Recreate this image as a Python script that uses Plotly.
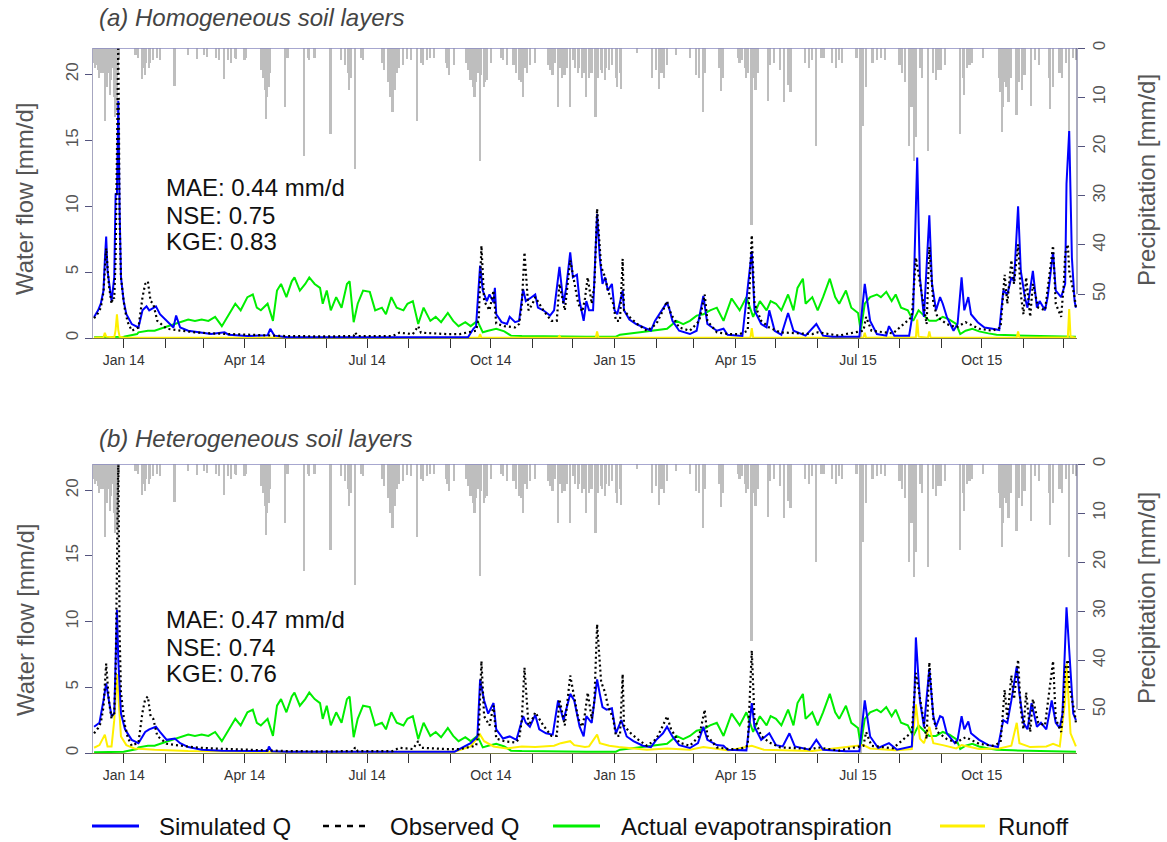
import pandas as pd
import plotly.graph_objects as go

# ---------------------------------------------------------------------------
# Daily record, day numbers are counted from 1 Jan 2014 (negative = Dec 2013)
# ---------------------------------------------------------------------------
BASE = pd.Timestamp("2014-01-01")

# Precipitation [mm/d] (rainy days only; all other days are dry)
rain_day = [-22, -21, -20, -19, -18, -17, -16, -15, -14, -13, -12, -11, -10, -9, -8, -7, -6, -5, -4, -3,
            9, 11, 14, 15, 16, 17, 19, 20, 22, 25, 27,
            38, 48, 55, 60, 62, 69, 71, 75, 78, 80, 83, 84, 90, 91,
            102, 104, 105, 106, 107, 108, 109, 120, 122,
            134, 137, 138, 142, 154, 162, 165, 167, 168, 169, 172, 177, 178,
            192, 194, 197, 198, 199, 200, 201, 202, 203, 205, 208, 211, 214,
            218, 221, 223, 226, 228, 231, 240, 241, 242, 246,
            255, 256, 258, 260, 261, 262, 264, 265, 266, 268, 269, 270, 273, 281, 282, 285,
            290, 292, 294, 296, 297, 299, 300, 302, 306,
            316, 317, 319, 321, 323, 325, 326, 328, 330, 332, 334, 336, 338,
            339, 341, 342, 344, 346, 348, 351, 353, 355, 356, 358, 359, 361, 363,
            366, 367, 369, 370, 382, 393, 396, 398, 400, 402, 404, 411, 421, 426, 428, 431, 432,
            443, 444, 446, 457, 458, 460, 462, 463, 464, 467, 468, 470, 472, 479, 481, 484, 488, 491, 494, 496,
            507, 510, 512, 515, 519, 521, 527, 530, 532, 534, 545, 548, 549, 550, 552, 557, 560, 563, 566,
            577, 579, 581, 584, 586, 588, 589, 592, 594, 598, 602, 604, 606, 608, 611,
            622, 624, 625, 627, 629, 631, 639, 651, 652, 653, 654, 655, 656, 658, 660, 664, 666, 668, 670,
            675, 678, 681, 688, 689, 691, 696, 698, 701, 703, 706, 708]
rain_mm = [3.0, 4.0, 3.5, 4.5, 6.0, 5.0, 3.0, 5.0, 14.8, 7.0, 8.0, 5.0, 9.5, 6.5, 4.0, 10.0, 14.0, 13.0, 5.0, 2.0,
           1.5, 2.0, 6.3, 4.0, 5.5, 3.0, 4.0, 3.0, 2.5, 2.0, 2.5,
           7.7, 1.5, 2.2, 1.5, 1.8, 2.0, 2.5, 6.3, 2.5, 3.0, 2.0, 2.2, 2.5, 2.0,
           4.5, 6.0, 8.5, 14.4, 10.0, 8.0, 5.0, 12.0, 2.0,
           21.9, 2.0, 2.5, 2.0, 17.5, 2.5, 3.5, 5.0, 8.5, 6.0, 24.6, 2.0, 2.5,
           3.0, 4.5, 7.0, 10.0, 8.0, 13.0, 6.0, 8.5, 5.0, 4.0, 3.5, 2.2, 2.5,
           14.8, 3.0, 3.5, 2.5, 2.0, 2.0, 3.0, 4.0, 5.5, 3.5,
           3.0, 4.5, 6.5, 8.0, 10.0, 7.0, 5.0, 22.9, 5.5, 8.0, 7.0, 6.5, 3.0, 2.0, 2.5, 3.5,
           3.5, 5.0, 6.5, 7.0, 10.0, 4.0, 5.0, 3.5, 3.0,
           3.5, 4.5, 5.5, 3.0, 12.0, 4.0, 6.0, 5.5, 4.0, 12.0, 2.5, 4.0, 5.0,
           4.0, 6.0, 5.0, 10.0, 6.0, 5.0, 14.0, 6.0, 4.5, 5.0, 6.5, 4.0, 4.5, 3.5,
           6.0, 8.0, 5.0, 8.3, 1.0, 6.0, 4.5, 8.3, 5.0, 6.0, 3.5, 1.5, 2.0, 5.5, 6.0, 13.0, 5.0,
           4.0, 8.7, 6.0, 2.0, 3.0, 2.5, 4.0, 6.0, 5.0, 36.0, 6.0, 8.5, 5.0, 10.7, 3.5, 3.0, 4.5, 11.0, 7.5, 9.0,
           3.0, 4.0, 2.5, 19.9, 2.0, 2.0, 3.0, 4.0, 2.5, 3.0, 2.0, 60.0, 12.0, 15.8, 8.0, 3.0, 2.5, 2.0, 2.5,
           3.5, 5.0, 7.0, 19.9, 12.0, 23.0, 18.0, 4.0, 6.0, 21.0, 5.0, 6.5, 4.5, 4.5, 3.5,
           17.5, 6.0, 9.5, 4.0, 3.5, 3.0, 2.0, 6.0, 9.0, 17.0, 12.0, 7.0, 8.0, 11.0, 6.0, 13.7, 7.0, 8.5, 5.5,
           11.7, 2.5, 3.5, 6.0, 12.4, 8.0, 5.0, 6.0, 3.0, 19.0, 2.0, 2.5]

# Observed discharge Q [mm/d]
obs_day = [-22, -19, -17, -15, -13, -11, -9, -8, -7, -6, -5, -4, -3, -2, 0, 1, 3, 6, 11, 14, 16, 18, 20, 22, 25,
           32, 43, 53, 65, 80, 100, 120, 150, 171, 172, 174, 200, 205, 210, 215, 219, 221, 240, 250, 262, 264,
           266, 268, 272, 275, 277, 283, 291, 294, 296, 298, 301, 304, 306, 312, 318, 322, 324, 328, 332, 335,
           338, 341, 343, 345, 348, 350, 352, 355, 358, 360, 364, 366, 369, 371, 372, 376, 382, 389, 396, 401,
           404, 407, 413, 421, 428, 432, 434, 441, 450, 458, 464, 467, 469, 474, 480, 488, 512, 516, 532, 537,
           550, 552, 556, 572, 586, 589, 592, 597, 599, 602, 605, 612, 619, 626, 636, 646, 652, 655, 657, 660,
           662, 665, 667, 669, 671, 674, 676, 680, 685, 687, 691, 693, 697, 699, 700, 702, 703, 707, 708]
obs_q = [1.5, 1.9, 2.3, 3.5, 6.8, 4.0, 2.6, 3.1, 3.0, 6.0, 14.0, 22.5, 9.0, 4.6, 2.8, 2.1, 1.2, 0.55, 0.8, 3.1,
         4.1, 4.3, 2.8, 2.6, 1.3, 0.7, 0.55, 0.43, 0.35, 0.3, 0.2, 0.15, 0.12, 0.15, 0.43, 0.15, 0.15, 0.4,
         0.35, 0.3, 0.9, 0.4, 0.3, 0.3, 0.55, 1.5, 7.0, 2.8, 2.1, 3.6, 1.1, 0.9, 0.8, 1.06, 2.5, 6.5, 2.1,
         2.6, 3.1, 2.1, 1.3, 1.3, 4.1, 2.1, 5.9, 4.1, 2.6, 2.0, 3.0, 4.6, 2.6, 4.0, 9.8, 5.4, 4.6, 3.6, 2.6,
         1.3, 1.3, 6.0, 2.1, 1.6, 1.06, 0.55, 1.06, 2.1, 2.8, 1.8, 0.8, 0.55, 1.3, 3.3, 1.3, 0.43, 0.3, 0.3,
         0.55, 7.8, 2.6, 1.3, 0.8, 0.43, 0.3, 0.43, 0.18, 0.3, 0.55, 1.6, 0.55, 0.35, 1.6, 6.1, 4.1, 1.06,
         6.9, 2.6, 1.6, 1.06, 0.8, 1.2, 0.7, 0.55, 0.8, 4.8, 2.6, 5.9, 4.1, 7.1, 3.3, 1.8, 4.6, 1.6, 4.1,
         2.3, 2.1, 3.6, 7.0, 2.6, 1.6, 4.1, 6.4, 7.1, 5.1, 3.1, 2.3]

# (a) Homogeneous soil layers: simulated Q [mm/d]
sim_a_day = [-22, -19, -17, -15, -14, -13, -12, -10, -9, -7, -6, -5, -4, -3, -2, 0, 2, 6, 11, 14, 17, 19, 22,
             24, 27, 32, 37, 39, 42, 48, 55, 65, 75, 78, 92, 107, 109, 112, 122, 256, 260, 262, 265, 267, 270,
             272, 275, 276, 277, 281, 285, 287, 291, 294, 297, 299, 302, 306, 308, 312, 317, 320, 324, 327,
             329, 332, 334, 337, 339, 341, 342, 344, 346, 349, 352, 354, 356, 358, 360, 363, 365, 367, 371,
             372, 376, 381, 389, 392, 395, 398, 401, 404, 406, 408, 413, 421, 426, 431, 434, 441, 446, 449,
             460, 467, 469, 474, 478, 480, 484, 489, 494, 498, 507, 515, 520, 527, 547, 551, 555, 560, 567,
             569, 573, 584, 587, 590, 592, 595, 599, 601, 604, 607, 609, 612, 617, 620, 623, 625, 628, 630,
             635, 640, 646, 651, 654, 657, 660, 662, 665, 667, 670, 672, 676, 679, 681, 685, 687, 691, 693,
             697, 700, 701, 703, 705, 707, 708]
sim_a_q = [1.6, 2.1, 2.6, 3.6, 5.9, 7.7, 5.1, 3.6, 2.8, 4.6, 10.9, 10.9, 18.0, 9.6, 4.6, 2.8, 1.8, 1.06, 0.8,
           2.1, 2.4, 2.1, 2.3, 2.4, 1.8, 1.3, 0.8, 1.7, 0.8, 0.55, 0.43, 0.3, 0.43, 0.25, 0.15, 0.2, 0.7,
           0.18, 0.05, 0.05, 0.7, 0.9, 5.5, 3.6, 2.8, 3.3, 2.7, 3.8, 1.8, 1.2, 1.06, 1.6, 1.2, 1.3, 3.7, 2.8,
           3.0, 3.3, 2.3, 2.1, 1.7, 2.1, 5.4, 2.6, 3.8, 6.5, 4.6, 4.8, 2.8, 1.6, 1.3, 2.8, 2.1, 2.1, 9.4,
           6.1, 4.1, 4.6, 3.6, 4.1, 2.1, 1.8, 3.6, 2.1, 1.4, 1.06, 0.7, 0.55, 1.3, 1.8, 2.3, 2.7, 2.1, 1.3,
           0.55, 0.3, 0.55, 3.2, 1.06, 0.55, 0.7, 0.25, 0.15, 6.6, 2.1, 1.06, 0.8, 2.1, 0.55, 0.25, 1.9,
           0.55, 0.18, 1.06, 0.18, 0.1, 0.1, 4.1, 1.3, 0.3, 0.18, 0.9, 0.18, 0.18, 2.1, 13.7, 4.6, 1.6,
           9.3, 4.1, 2.1, 3.1, 2.6, 1.6, 0.55, 1.06, 4.6, 2.1, 3.1, 1.8, 1.2, 0.8, 0.7, 0.6, 3.6, 3.3, 4.6,
           4.3, 10.0, 5.1, 3.1, 2.3, 5.1, 2.3, 2.8, 2.1, 3.1, 6.5, 3.6, 3.1, 4.1, 11.7, 15.7, 6.1, 2.8, 2.3]

# (b) Heterogeneous soil layers: simulated Q [mm/d]
sim_b_day = [-22, -18, -15, -13, -11, -9, -7, -5, -4, -2, 1, 6, 11, 16, 19, 24, 27, 32, 38, 42, 48, 58, 73,
             107, 108, 110, 122, 246, 258, 263, 265, 268, 271, 275, 277, 282, 287, 292, 297, 299, 302, 306,
             309, 314, 319, 323, 327, 332, 335, 339, 342, 344, 348, 352, 354, 356, 359, 363, 366, 370, 374,
             379, 386, 392, 396, 401, 404, 408, 413, 421, 427, 431, 434, 441, 446, 449, 463, 467, 469, 474,
             480, 485, 490, 495, 499, 510, 515, 520, 537, 547, 551, 555, 561, 569, 575, 586, 588, 589, 592,
             595, 599, 602, 604, 607, 609, 612, 618, 620, 623, 625, 628, 630, 636, 643, 650, 654, 657, 660,
             664, 666, 669, 672, 675, 679, 682, 686, 690, 693, 696, 698, 701, 704, 706, 708]
sim_b_q = [2.0, 2.3, 4.0, 5.3, 4.0, 2.8, 3.0, 10.9, 7.1, 3.0, 1.8, 1.0, 0.75, 1.6, 1.8, 2.0, 1.6, 1.0, 1.1,
           0.75, 0.45, 0.25, 0.18, 0.15, 0.5, 0.13, 0.1, 0.1, 0.75, 1.26, 5.6, 4.0, 3.0, 3.8, 1.8, 1.1, 1.26,
           1.0, 2.8, 2.3, 2.0, 2.9, 1.8, 1.5, 1.4, 4.0, 2.5, 4.5, 4.0, 2.0, 1.26, 2.8, 2.3, 5.6, 4.5, 3.5,
           3.3, 3.4, 1.5, 2.5, 1.26, 0.9, 0.55, 0.45, 1.0, 1.5, 2.0, 1.26, 0.6, 0.38, 0.75, 2.0, 1.0, 0.6,
           0.55, 0.25, 0.2, 3.8, 2.0, 1.0, 1.5, 0.6, 0.5, 1.5, 0.5, 0.25, 1.0, 0.25, 0.13, 0.13, 4.0, 1.26,
           0.38, 0.75, 0.25, 0.5, 4.5, 8.8, 4.0, 2.0, 6.4, 2.8, 2.0, 2.8, 2.7, 1.5, 0.75, 1.0, 2.8, 1.8,
           2.4, 1.5, 1.0, 0.6, 0.45, 2.5, 2.3, 4.0, 6.6, 4.5, 2.3, 1.8, 3.8, 2.0, 2.3, 1.8, 4.0, 2.3, 1.9,
           3.0, 11.1, 5.8, 3.0, 2.5]

# Actual evapotranspiration [mm/d]
aet_day = [-22, -10, 0, 10, 11, 18, 23, 30, 38, 44, 48, 53, 58, 63, 68, 73, 78, 83, 87, 92, 96, 99, 102, 107,
           111, 114, 117, 121, 125, 127, 131, 135, 138, 142, 146, 148, 151, 154, 158, 162, 166, 168, 171, 174,
           178, 183, 187, 192, 195, 199, 203, 208, 211, 215, 219, 223, 228, 232, 236, 241, 245, 249, 254, 258,
           263, 267, 271, 277, 283, 288, 296, 320, 344, 366, 369, 384, 393, 404, 411, 416, 421, 426, 431, 436,
           441, 446, 452, 458, 463, 468, 473, 478, 481, 485, 489, 494, 498, 501, 505, 507, 512, 516, 520, 525,
           529, 532, 537, 541, 546, 548, 551, 555, 560, 563, 567, 571, 574, 578, 583, 587, 591, 594, 599, 604,
           609, 614, 619, 622, 626, 631, 636, 643, 649, 661, 674, 686, 708]
aet_mm = [0.05, 0.08, 0.1, 0.3, 0.43, 0.55, 0.55, 0.8, 1.06, 1.3, 1.4, 1.3, 1.4, 1.3, 1.6, 0.9, 1.7, 2.6, 2.1,
          3.1, 3.3, 2.3, 2.1, 2.6, 1.3, 3.6, 4.1, 3.1, 4.3, 4.6, 3.6, 4.1, 4.6, 4.1, 3.8, 2.6, 3.6, 2.1, 3.1,
          2.3, 4.1, 4.3, 1.2, 2.6, 3.6, 3.5, 2.1, 2.3, 1.8, 3.1, 2.3, 2.1, 2.6, 2.8, 1.06, 2.3, 1.3, 1.6, 1.2,
          1.9, 1.3, 0.9, 1.2, 0.9, 1.3, 0.43, 0.55, 0.7, 0.5, 0.18, 0.15, 0.1, 0.1, 0.1, 0.25, 0.43, 0.55,
          0.7, 1.3, 1.06, 1.3, 1.7, 1.8, 2.1, 2.3, 1.3, 3.0, 2.1, 3.1, 1.6, 2.8, 2.1, 2.8, 2.6, 2.1, 3.3, 2.1,
          3.8, 4.5, 2.6, 3.1, 2.1, 3.1, 4.5, 3.1, 2.6, 3.6, 2.3, 1.9, 0.55, 2.6, 3.1, 3.3, 3.1, 3.5, 2.8, 3.3,
          2.3, 2.1, 1.3, 2.1, 1.8, 1.3, 1.3, 1.6, 1.4, 1.06, 0.3, 0.55, 0.7, 0.5, 0.35, 0.25, 0.2, 0.18, 0.15,
          0.1]

# (a) Runoff [mm/d]
run_a_day = [-22, -15, -14, -13, -7, -6, -5, -4, -3, 0, 264, 265, 266, 323, 324, 325, 351, 352, 353, 466, 467,
             468, 550, 551, 552, 589, 590, 591, 598, 599, 600, 664, 665, 666, 702, 703, 704, 708]
run_a_mm = [0.02, 0.05, 0.4, 0.1, 0.05, 0.6, 1.8, 0.6, 0.1, 0.03, 0.02, 0.3, 0.02, 0.02, 0.15, 0.02, 0.02, 0.5,
            0.02, 0.02, 0.75, 0.02, 0.02, 0.4, 0.02, 0.05, 1.4, 0.1, 0.02, 0.5, 0.02, 0.02, 0.5, 0.02, 0.05,
            2.2, 0.1, 0.02]

# (b) Runoff [mm/d]
run_b_day = [-22, -18, -14, -12, -9, -7, -5, -3, -2, 2, 8, 23, 48, 97, 246, 258, 265, 268, 275, 285, 296, 306,
             320, 325, 332, 335, 343, 346, 352, 354, 361, 368, 389, 404, 421, 431, 450, 467, 476, 512, 550, 555,
             574, 586, 589, 592, 595, 599, 602, 609, 619, 623, 636, 651, 660, 664, 666, 674, 686, 691, 696, 700,
             701, 704, 708]
run_b_mm = [0.4, 0.6, 1.4, 0.5, 0.5, 2.5, 6.0, 3.0, 1.26, 0.6, 0.35, 0.25, 0.15, 0.1, 0.1, 0.5, 1.4, 0.9, 0.5,
            0.35, 0.5, 0.45, 0.55, 0.75, 0.9, 0.6, 0.45, 0.5, 1.4, 0.75, 0.55, 0.45, 0.25, 0.35, 0.25, 0.45,
            0.2, 0.55, 0.25, 0.15, 0.6, 0.35, 0.2, 0.3, 3.7, 1.1, 0.75, 2.0, 0.75, 0.6, 0.35, 0.6, 0.3, 0.35,
            0.55, 2.3, 0.75, 0.45, 0.5, 0.7, 0.5, 4.0, 6.8, 1.5, 0.5]

# Goodness-of-fit scores per panel
panels = [
    {"title": "(a) Homogeneous soil layers", "mae": "0.44", "nse": "0.75", "kge": "0.83",
     "sim": (sim_a_day, sim_a_q), "run": (run_a_day, run_a_mm)},
    {"title": "(b) Heterogeneous soil layers", "mae": "0.47", "nse": "0.74", "kge": "0.76",
     "sim": (sim_b_day, sim_b_q), "run": (run_b_day, run_b_mm)},
]

legend_names = ["Simulated Q", "Observed Q", "Actual evapotranspiration", "Runoff"]


def to_dates(days):
    return BASE + pd.to_timedelta(pd.Series(days, dtype=float), unit="D")


# ---------------------------------------------------------------------------
# Figure geometry (pixels)
# ---------------------------------------------------------------------------
W, H = 1167, 842
L, R, T, B = 93, 90, 48, 89
PW, PH = W - L - R, H - T - B


def px(xp):
    return (xp - L) / PW


def py(yp):
    return (H - B - yp) / PH


FONT = "Liberation Sans, Arial, Helvetica, sans-serif"
BLUE, GREEN, YELLOW, BLACK, GREY = "#0000ff", "#00ee00", "#fff000", "#000000", "#bebebe"
AXIS_C = "#54547e"
OBS_DASH = "2px,3px"

FLOW_MAX, RAIN_MAX = 22.0, 58.9
x_range = [BASE + pd.Timedelta(days=-22.8), BASE + pd.Timedelta(days=708.8)]
month_ticks = pd.date_range("2014-01-01", "2015-12-01", freq="MS")
month_text = [d.strftime("%b %y") if d.month in (1, 4, 7, 10) else "" for d in month_ticks]

fig = go.Figure()

domains = [[py(338), 1.0], [0.0, py(464)]]

for i, p in enumerate(panels):
    xa = "x" if i == 0 else "x2"
    y_rain = "y" if i == 0 else "y3"
    y_flow = "y2" if i == 0 else "y4"

    # rain bars hang from the top on the reversed right-hand axis
    fig.add_trace(go.Bar(x=to_dates(rain_day), y=rain_mm, width=86400000 * 1.25,
                         marker=dict(color=GREY, line=dict(width=0)),
                         xaxis=xa, yaxis=y_rain, showlegend=False, hoverinfo="skip"))

    fig.add_trace(go.Scatter(x=to_dates(aet_day), y=aet_mm, mode="lines",
                             line=dict(color=GREEN, width=2), xaxis=xa, yaxis=y_flow,
                             showlegend=False, hoverinfo="skip"))
    rd, rv = p["run"]
    fig.add_trace(go.Scatter(x=to_dates(rd), y=rv, mode="lines",
                             line=dict(color=YELLOW, width=2), xaxis=xa, yaxis=y_flow,
                             showlegend=False, hoverinfo="skip"))
    sd, sv = p["sim"]
    fig.add_trace(go.Scatter(x=to_dates(sd), y=sv, mode="lines",
                             line=dict(color=BLUE, width=2), xaxis=xa, yaxis=y_flow,
                             showlegend=False, hoverinfo="skip"))
    fig.add_trace(go.Scatter(x=to_dates(obs_day), y=obs_q, mode="lines",
                             line=dict(color=BLACK, width=2.2, dash=OBS_DASH), xaxis=xa,
                             yaxis=y_flow, showlegend=False, hoverinfo="skip"))

    xkey = "xaxis" if i == 0 else "xaxis2"
    rkey = "yaxis" if i == 0 else "yaxis3"
    fkey = "yaxis2" if i == 0 else "yaxis4"
    fig.update_layout(**{
        xkey: dict(domain=[0, 1], anchor=y_rain, type="date", range=x_range,
                   tickmode="array", tickvals=month_ticks, ticktext=month_text,
                   ticks="outside", ticklen=9, tickwidth=1, tickcolor="#333333",
                   tickfont=dict(family=FONT, size=14, color="#333333"),
                   showgrid=False, zeroline=False, showline=True, linecolor="#7a7a45",
                   linewidth=1),
        rkey: dict(domain=domains[i], anchor=xa, side="right", range=[RAIN_MAX, 0],
                   tickmode="array", tickvals=[0, 10, 20, 30, 40, 50],
                   ticks="outside", ticklen=7, tickcolor=AXIS_C, tickangle=-90,
                   tickfont=dict(family=FONT, size=17, color="#555555"),
                   showgrid=False, zeroline=False, showline=False),
        fkey: dict(overlaying=y_rain, anchor=xa, side="left", range=[0, FLOW_MAX],
                   tickmode="array", tickvals=[0, 5, 10, 15, 20],
                   ticks="outside", ticklen=7, tickcolor=AXIS_C, tickangle=-90,
                   tickfont=dict(family=FONT, size=17, color="#555555"),
                   showgrid=False, zeroline=False, showline=True, linecolor="#a6a6c0",
                   linewidth=1),
    })

    # top frame line (rain = 0) and right axis line spanning 0-50 mm/d
    fig.add_shape(type="line", xref=f"{xa} domain", yref=y_rain, x0=0, x1=1, y0=0, y1=0,
                  line=dict(color="#8a8abf", width=1.5), layer="above")
    fig.add_shape(type="line", xref=f"{xa} domain", yref=y_rain, x0=1, x1=1, y0=0, y1=50,
                  line=dict(color=AXIS_C, width=1), layer="above")

# panel titles, scores and axis titles
title_y = [18, 438]
score_y = [(188, 215, 242), (619, 647, 673)]
flow_title_y = [199, 620]
rain_title_y = [180, 598]
for i, p in enumerate(panels):
    fig.add_annotation(x=px(97), y=py(title_y[i]), xref="paper", yref="paper", showarrow=False,
                       xanchor="left", yanchor="middle", text=f"<i>{p['title']}</i>",
                       font=dict(family=FONT, size=24, color="#444444"))
    lines = [f"MAE: {p['mae']} mm/d", f"NSE: {p['nse']}", f"KGE: {p['kge']}"]
    for txt, yy in zip(lines, score_y[i]):
        fig.add_annotation(x=px(164), y=py(yy), xref="paper", yref="paper", showarrow=False,
                           xanchor="left", yanchor="middle", text=txt,
                           font=dict(family=FONT, size=24, color="#111111"))
    fig.add_annotation(x=px(25), y=py(flow_title_y[i]), xref="paper", yref="paper",
                       showarrow=False, textangle=-90, text="Water flow [mm/d]",
                       xanchor="center", yanchor="middle",
                       font=dict(family=FONT, size=24, color="#555555"))
    fig.add_annotation(x=px(1146), y=py(rain_title_y[i]), xref="paper", yref="paper",
                       showarrow=False, textangle=-90, text="Precipitation [mm/d]",
                       xanchor="center", yanchor="middle",
                       font=dict(family=FONT, size=24, color="#555555"))

# legend row under the lower panel
legend_items = [
    (legend_names[0], BLUE, "solid", 3, 92, 139, 157),
    (legend_names[1], BLACK, "6px,6px", 2.5, 323, 365, 388),
    (legend_names[2], GREEN, "solid", 3, 553, 600, 619),
    (legend_names[3], YELLOW, "solid", 3, 940, 985, 996),
]
ly = py(826)
for name, col, dash, lw, x0, x1, xt in legend_items:
    fig.add_shape(type="line", xref="paper", yref="paper", x0=px(x0), x1=px(x1), y0=ly, y1=ly,
                  line=dict(color=col, width=lw, dash=dash))
    fig.add_annotation(x=px(xt), y=ly, xref="paper", yref="paper", showarrow=False,
                       xanchor="left", yanchor="middle", text=name,
                       font=dict(family=FONT, size=24, color="#111111"))

fig.update_layout(width=W, height=H, margin=dict(l=L, r=R, t=T, b=B),
                  paper_bgcolor="white", plot_bgcolor="white", showlegend=False,
                  barmode="overlay", bargap=0)

fig.write_html("out.html")
